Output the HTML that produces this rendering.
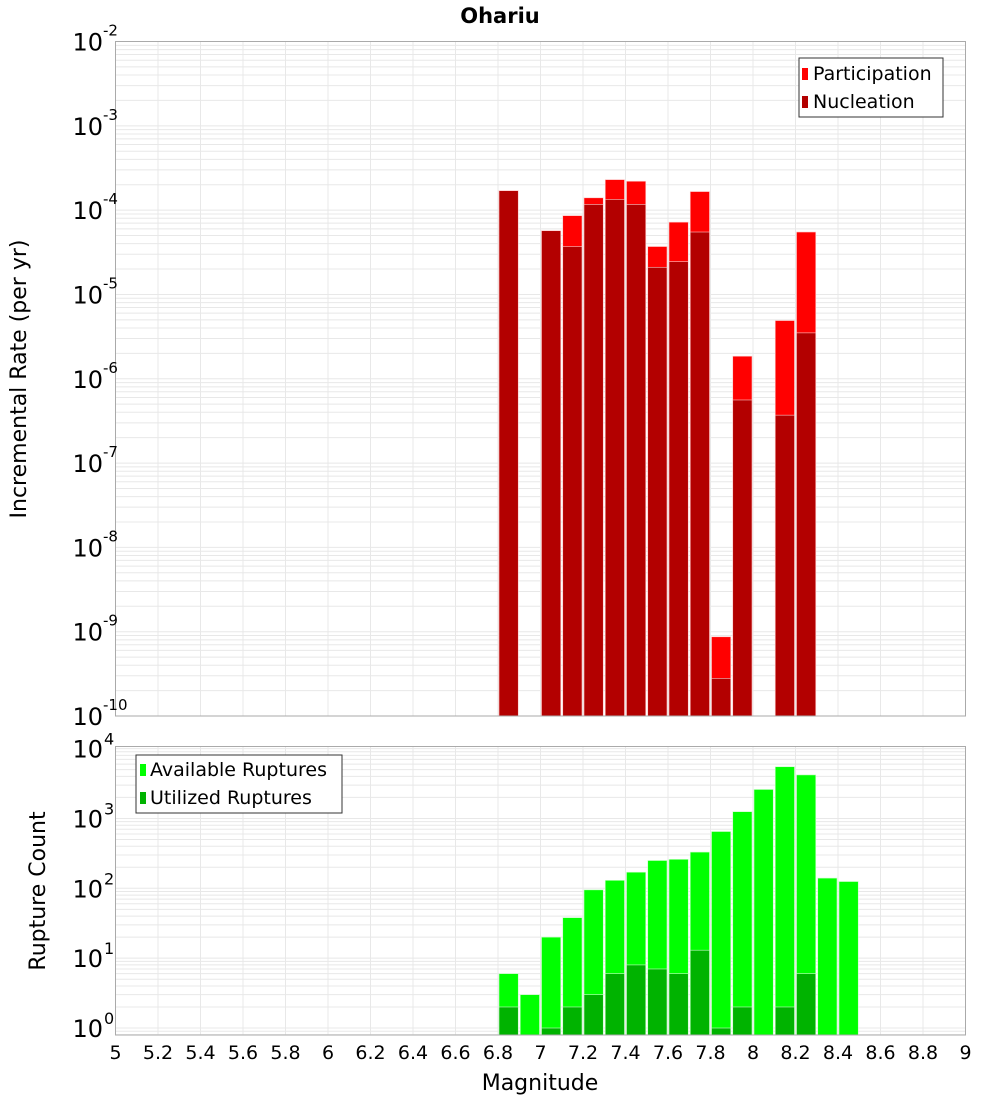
<!DOCTYPE html>
<html><head><meta charset="utf-8"><style>
body{margin:0;background:#fff}
svg{display:block;font-family:"DejaVu Sans","Liberation Sans",sans-serif}
</style></head><body>
<svg id="chart" width="1000" height="1100" xmlns="http://www.w3.org/2000/svg">
<text x="500" y="23" text-anchor="middle" font-size="21" font-weight="bold">Ohariu</text>
<g id="top"></g><g id="bot"></g>
<text x="540" y="1090" text-anchor="middle" font-size="22">Magnitude</text>
<text transform="translate(26,379) rotate(-90)" text-anchor="middle" font-size="22">Incremental Rate (per yr)</text>
<text transform="translate(45,891) rotate(-90)" text-anchor="middle" font-size="22">Rupture Count</text>
</svg>
<script>
const rateBins=[6.8,6.9,7.0,7.1,7.2,7.3,7.4,7.5,7.6,7.7,7.8,7.9,8.0,8.1,8.2];
const participation=[1.7e-4,0,5.7e-5,8.6e-5,1.4e-4,2.3e-4,2.2e-4,3.7e-5,7.2e-5,1.66e-4,8.7e-10,1.85e-6,0,4.9e-6,5.5e-5];
const nucleation=[1.7e-4,0,5.7e-5,3.7e-5,1.17e-4,1.34e-4,1.17e-4,2.1e-5,2.45e-5,5.5e-5,2.8e-10,5.6e-7,0,3.7e-7,3.5e-6];
const countBins=[6.8,6.9,7.0,7.1,7.2,7.3,7.4,7.5,7.6,7.7,7.8,7.9,8.0,8.1,8.2,8.3,8.4];
const available=[6,3,20,38,95,130,170,250,260,330,650,1250,2600,5500,4200,140,125];
const utilized=[2,0,1,2,3,6,8,7,6,13,1,2,0,2,6,0,0];
const xTicks=["5","5.2","5.4","5.6","5.8","6","6.2","6.4","6.6","6.8","7","7.2","7.4","7.6","7.8","8","8.2","8.4","8.6","8.8","9"];
const topExps=[-2,-3,-4,-5,-6,-7,-8,-9,-10];
const botExps=[4,3,2,1,0];

const NS="http://www.w3.org/2000/svg";
const L=115.5,R=965.5;
const xs=m=>L+(m-5)/4*(R-L);
function mk(p,tag,a){const e=document.createElementNS(NS,tag);for(const k in a)e.setAttribute(k,a[k]);p.appendChild(e);return e;}
function panel(g,top,bot,lmin,lmax,name){
  const ys=v=>bot-(Math.log10(v)-lmin)/(lmax-lmin)*(bot-top);
  const bg=mk(g,'rect',{x:L,y:top,width:R-L,height:bot-top,fill:'#fff'});
  
  
  for(let d=Math.floor(lmin);d<=Math.ceil(lmax);d++)for(let k=1;k<10;k++){
    const y=ys(k*Math.pow(10,d));if(y<top||y>bot)continue;
    mk(g,'line',{x1:L,x2:R,y1:y,y2:y,stroke:'#e8e8e8','stroke-width':1});
  }
  for(let i=0;i<=20;i++){const x=xs(5+i*0.2);mk(g,'line',{x1:x,x2:x,y1:top,y2:bot,stroke:'#e8e8e8','stroke-width':1});}
  return ys;
}
function bar(g,m,v,ys,bot,fill,name,st){
  if(!v)return;
  const x0=xs(m),x1=xs(m+0.1),y=ys(v);
  const r=mk(g,'rect',{x:x0+1,y:y,width:x1-x0-2,height:bot-y,fill:fill,stroke:st,'stroke-width':0.6});
  
  
}
const gt=document.getElementById('top');
const T0=41.5,T1=716;
const yt=panel(gt,T0,T1,-10,-2,'rate');
rateBins.forEach((m,i)=>bar(gt,m,participation[i],yt,T1,'#ff0000','participation-bar','#ffc8c8'));
rateBins.forEach((m,i)=>bar(gt,m,nucleation[i],yt,T1,'#b30000','nucleation-bar','#ffc8c8'));
mk(gt,'rect',{x:L,y:T0,width:R-L,height:T1-T0,fill:'none',stroke:'#aaa'});
topExps.forEach(e=>{const y=yt(Math.pow(10,e));
  const t=mk(gt,'text',{x:103,y:y+9,'text-anchor':'end','font-size':24});t.textContent='10';
  
  const s=mk(gt,'text',{x:103,y:y-6,'font-size':15});s.textContent=String(e);});
{const lg=mk(gt,'g',{});
 mk(lg,'rect',{x:799,y:58,width:144,height:59,fill:'#fff',stroke:'#333'});
 mk(lg,'rect',{x:802,y:68,width:6,height:12,fill:'#ff0000'});
 mk(lg,'rect',{x:802,y:96,width:6,height:12,fill:'#b30000'});
 let t=mk(lg,'text',{x:813,y:80,'font-size':19});t.textContent='Participation';
 t=mk(lg,'text',{x:813,y:108,'font-size':19});t.textContent='Nucleation';}
const gb=document.getElementById('bot');
const B0=746.5,B1=1035;
const yb=panel(gb,B0,B1,-0.1,4.03,'count');
countBins.forEach((m,i)=>bar(gb,m,available[i],yb,B1,'#00ff00','available-bar','#c8ffc8'));
countBins.forEach((m,i)=>bar(gb,m,utilized[i],yb,B1,'#00b300','utilized-bar','#c8ffc8'));
mk(gb,'rect',{x:L,y:B0,width:R-L,height:B1-B0,fill:'none',stroke:'#aaa'});
botExps.forEach(e=>{const y=yb(Math.pow(10,e));
  const t=mk(gb,'text',{x:103,y:y+9,'text-anchor':'end','font-size':24});t.textContent='10';
  
  const s=mk(gb,'text',{x:104,y:y-4,'font-size':16});s.textContent=String(e);});
{const lg=mk(gb,'g',{});
 mk(lg,'rect',{x:136,y:755,width:206,height:58,fill:'#fff',stroke:'#333'});
 mk(lg,'rect',{x:140,y:764,width:6,height:12,fill:'#00ff00'});
 mk(lg,'rect',{x:140,y:792,width:6,height:12,fill:'#00b300'});
 let t=mk(lg,'text',{x:150,y:776,'font-size':19});t.textContent='Available Ruptures';
 t=mk(lg,'text',{x:150,y:804,'font-size':19});t.textContent='Utilized Ruptures';}
xTicks.forEach(s=>{const t=mk(gb,'text',{x:xs(parseFloat(s)),y:1059,'text-anchor':'middle','font-size':19});t.textContent=s;
  });
</script>
</body></html>
